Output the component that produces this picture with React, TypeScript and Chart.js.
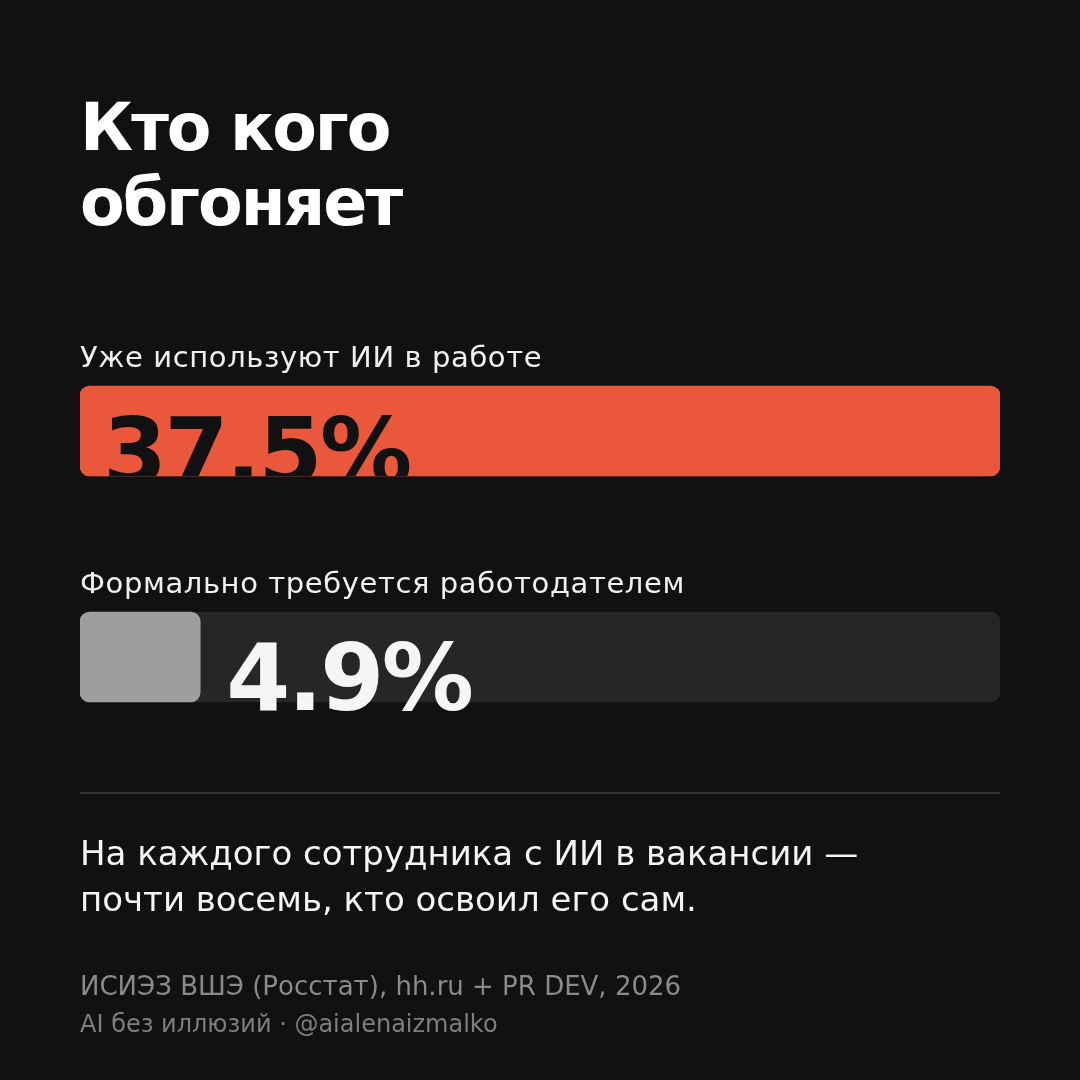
import React, { useEffect, useRef } from "react";
import { Chart, registerables } from "chart.js";

Chart.register(...registerables);

const categories = ["Уже используют ИИ в работе", "Формально требуется работодателем"];
const values = [37.5, 4.9];
const valueLabels = ["37.5%", "4.9%"];
const scaleMax = 37.5;
const titleLines = ["Кто кого", "обгоняет"];
const bodyLines = ["На каждого сотрудника с ИИ в вакансии —", "почти восемь, кто освоил его сам."];
const footerLines = ["ИСИЭЗ ВШЭ (Росстат), hh.ru + PR DEV, 2026", "AI без иллюзий · @aialenaizmalko"];

const FONT = "'DejaVu Sans', sans-serif";
const BG = "#111111";
const ORANGE = "#EA583C";
const GRAY = "#9E9E9E";
const TRACK = "#262626";

function roundRectPath(ctx: CanvasRenderingContext2D, x: number, y: number, w: number, h: number, r: number) {
  ctx.beginPath();
  ctx.moveTo(x + r, y);
  ctx.lineTo(x + w - r, y);
  ctx.arcTo(x + w, y, x + w, y + r, r);
  ctx.lineTo(x + w, y + h - r);
  ctx.arcTo(x + w, y + h, x + w - r, y + h, r);
  ctx.lineTo(x + r, y + h);
  ctx.arcTo(x, y + h, x, y + h - r, r);
  ctx.lineTo(x, y + r);
  ctx.arcTo(x, y, x + r, y, r);
  ctx.closePath();
}

const valueLabelPlugin = {
  id: "valueLabels",
  afterDatasetsDraw(chart: any) {
    const ctx: CanvasRenderingContext2D = chart.ctx;
    const meta = chart.getDatasetMeta(1);
    meta.data.forEach((bar: any, i: number) => {
      const { x, y, base, height } = bar.getProps(["x", "y", "base", "height"], true);
      const top = y - height / 2;
      ctx.save();
      ctx.font = `bold 92px ${FONT}`;
      (ctx as any).letterSpacing = "-2.5px";
      ctx.textBaseline = "alphabetic";
      ctx.textAlign = "left";
      if (i === 0) {
        roundRectPath(ctx, base, top, x - base, height, 10);
        ctx.clip();
        ctx.fillStyle = BG;
        ctx.fillText(valueLabels[i], base + 23, y + 53);
      } else {
        ctx.fillStyle = "#F5F5F5";
        ctx.fillText(valueLabels[i], x + 26, y + 53);
      }
      ctx.restore();
    });
  },
};

export default function App() {
  const canvasRef = useRef<HTMLCanvasElement | null>(null);

  useEffect(() => {
    document.body.style.margin = "0";
    document.body.style.background = BG;
    const chart = new Chart(canvasRef.current!, {
      type: "bar",
      data: {
        labels: categories,
        datasets: [
          {
            label: "track",
            data: categories.map(() => scaleMax),
            backgroundColor: TRACK,
            borderRadius: 10,
            borderSkipped: false,
            barThickness: 90,
            grouped: false,
            order: 2,
          } as any,
          {
            label: "value",
            data: values,
            backgroundColor: [ORANGE, GRAY],
            borderRadius: 10,
            borderSkipped: false,
            barThickness: 90,
            grouped: false,
            order: 1,
          } as any,
        ],
      },
      options: {
        indexAxis: "y",
        animation: false,
        responsive: false,
        maintainAspectRatio: false,
        layout: { padding: { left: 80, right: 80, top: 318, bottom: 310 } },
        plugins: { legend: { display: false }, tooltip: { enabled: false } },
        scales: {
          x: { display: false, min: 0, max: scaleMax },
          y: { display: false, offset: true },
        },
      },
      plugins: [valueLabelPlugin],
    });
    return () => chart.destroy();
  }, []);

  const textBase: React.CSSProperties = { position: "absolute", left: 80, fontFamily: FONT, whiteSpace: "nowrap" };

  return (
    <div style={{ position: "relative", width: 1080, height: 1080, background: BG, overflow: "hidden" }}>
      <canvas ref={canvasRef} width={1080} height={1080} style={{ position: "absolute", left: 0, top: 0, width: 1080, height: 1080 }} />
      <div style={{ ...textBase, top: 90, fontSize: 65, lineHeight: "75px", fontWeight: "bold", color: "#FFFFFF", letterSpacing: "-2px" }}>
        {titleLines.map((l) => (
          <div key={l}>{l}</div>
        ))}
      </div>
      <div style={{ ...textBase, top: 340, fontSize: 29, lineHeight: "34px", color: "#F0F0F0", letterSpacing: "0.6px" }}>{categories[0]}</div>
      <div style={{ ...textBase, top: 566, fontSize: 29, lineHeight: "34px", color: "#F0F0F0", letterSpacing: "0.6px" }}>{categories[1]}</div>
      <div style={{ position: "absolute", left: 80, top: 792, width: 920, height: 2, background: "#333333" }} />
      <div style={{ ...textBase, top: 830, fontSize: 34, lineHeight: "46px", color: "#F5F5F5" }}>
        {bodyLines.map((l) => (
          <div key={l}>{l}</div>
        ))}
      </div>
      <div style={{ ...textBase, top: 967, fontSize: 26, lineHeight: "38px", color: "#8A8A8A" }}>{footerLines[0]}</div>
      <div style={{ ...textBase, top: 1005, fontSize: 24, lineHeight: "38px", color: "#7E7E7E" }}>{footerLines[1]}</div>
    </div>
  );
}
